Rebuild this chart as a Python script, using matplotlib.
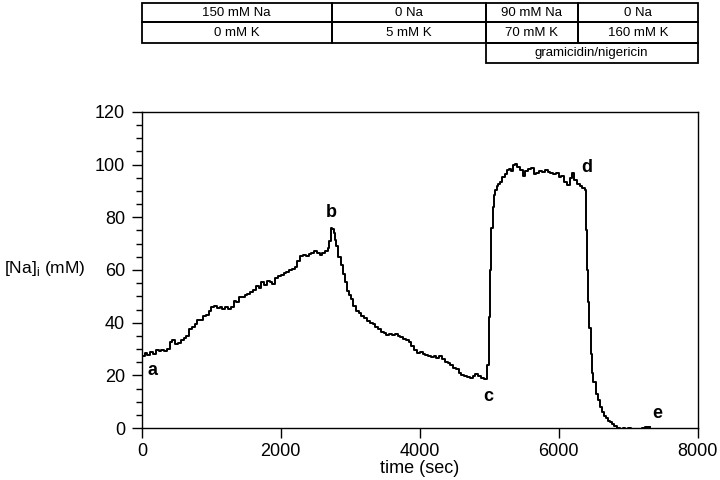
import matplotlib
matplotlib.use("Agg")
import matplotlib.pyplot as plt
from matplotlib.ticker import MultipleLocator
from matplotlib.transforms import blended_transform_factory
from matplotlib.patches import Rectangle

plt.rcParams["font.family"] = ["Liberation Sans", "DejaVu Sans"]
plt.rcParams["mathtext.fontset"] = "custom"
plt.rcParams["mathtext.rm"] = "Liberation Sans"

# trace (time in s, intracellular Na in mM)
time_s = [
    0, 40, 80, 120, 160, 200, 240, 280, 320, 360,
    400, 440, 480, 520, 560, 600, 640, 680, 720, 760,
    800, 840, 880, 920, 960, 1000, 1040, 1080, 1120, 1160,
    1200, 1240, 1280, 1320, 1360, 1400, 1440, 1480, 1520, 1560,
    1600, 1640, 1680, 1720, 1760, 1800, 1840, 1880, 1920, 1960,
    2000, 2040, 2080, 2120, 2160, 2200, 2240, 2280, 2320, 2360,
    2400, 2440, 2480, 2520, 2560, 2600, 2640, 2680, 2700, 2720,
    2740, 2760, 2780, 2800, 2830, 2860, 2890, 2920, 2950, 2980,
    3010, 3040, 3080, 3120, 3160, 3200, 3240, 3280, 3320, 3360,
    3400, 3440, 3480, 3520, 3560, 3600, 3640, 3680, 3720, 3760,
    3800, 3840, 3880, 3920, 3960, 4000, 4040, 4080, 4120, 4160,
    4200, 4240, 4280, 4320, 4360, 4400, 4440, 4480, 4520, 4560,
    4600, 4640, 4680, 4720, 4760, 4800, 4840, 4880, 4920, 4950,
    4970, 4990, 5010, 5030, 5050, 5070, 5090, 5110, 5130, 5160,
    5190, 5220, 5250, 5280, 5310, 5340, 5370, 5400, 5440, 5480,
    5520, 5560, 5600, 5640, 5680, 5720, 5760, 5800, 5840, 5880,
    5920, 5960, 6000, 6040, 6080, 6120, 6160, 6190, 6220, 6260,
    6300, 6340, 6380, 6395, 6410, 6425, 6440, 6460, 6480, 6500,
    6530, 6560, 6590, 6620, 6650, 6680, 6710, 6740, 6770, 6800,
    6840, 6880, 6920, 6960, 7000, 7040, 7080, 7120, 7160, 7200,
    7240, 7280, 7310,
]
na_mM = [
    27.5, 28.5, 27.8, 28.8, 28.2, 29.5, 29.2, 29.8, 29.4, 30.2,
    32.8, 33.5, 32.0, 32.3, 33.6, 34.2, 35.0, 37.6, 38.2, 39.5,
    41.2, 41.0, 42.4, 43.0, 44.5, 45.8, 46.2, 45.4, 45.9, 45.3,
    45.8, 45.2, 45.9, 48.3, 48.0, 49.6, 49.8, 50.4, 51.0, 51.6,
    52.4, 53.8, 53.0, 55.6, 54.2, 56.0, 55.4, 54.6, 57.0, 57.6,
    58.2, 58.9, 59.4, 60.0, 60.4, 61.2, 63.5, 65.2, 65.6, 65.4,
    66.0, 66.4, 67.2, 66.6, 65.8, 66.6, 67.2, 68.2, 71.0, 76.0,
    75.5, 74.0, 71.5, 69.0, 65.0, 62.0, 58.5, 55.5, 52.0, 50.5,
    49.0, 46.5, 44.5, 43.6, 42.4, 41.8, 40.8, 40.0, 39.4, 38.2,
    37.8, 36.5, 36.2, 35.4, 35.8, 35.2, 35.6, 34.8, 34.6, 34.0,
    33.4, 32.6, 31.2, 29.8, 28.6, 28.8, 28.2, 27.6, 27.4, 27.0,
    27.2, 26.8, 27.2, 26.4, 25.2, 24.6, 23.8, 22.8, 22.4, 21.0,
    20.2, 19.6, 19.3, 19.0, 19.6, 20.6, 19.8, 19.2, 18.8, 18.6,
    24.0, 42.0, 60.0, 76.0, 84.0, 88.5, 90.5, 91.8, 92.5, 93.4,
    95.2, 96.4, 97.8, 98.4, 97.6, 99.8, 100.4, 99.2, 98.0, 95.8,
    97.4, 98.2, 98.6, 96.4, 96.8, 97.6, 97.2, 98.0, 97.0, 96.8,
    96.4, 96.8, 95.4, 95.8, 93.2, 92.4, 94.8, 96.8, 94.2, 92.6,
    91.8, 91.2, 90.4, 75.0, 60.0, 48.0, 38.0, 28.0, 21.0, 17.5,
    13.0, 10.5, 8.0, 6.0, 4.6, 3.8, 2.8, 2.2, 1.4, 0.8,
    0.2, -0.2, 0.0, -0.3, -0.1, -0.4, -0.2, -0.8, -0.2, 0.2,
    0.4, 0.6, 0.3,
]

# point labels
mark_text = ["a", "b", "c", "d", "e"]
mark_x = [150, 2720, 4980, 6410, 7420]
mark_y = [22, 82, 12, 99, 5.5]

# solution table above the plot: (label, start, end) per row
row_na = [("150 mM Na", 0, 2730), ("0 Na", 2730, 4950),
          ("90 mM Na", 4950, 6280), ("0 Na", 6280, 8000)]
row_k = [("0 mM K", 0, 2730), ("5 mM K", 2730, 4950),
         ("70 mM K", 4950, 6280), ("160 mM K", 6280, 8000)]
row_ion = [("gramicidin/nigericin", 4950, 8000)]

fig = plt.figure(figsize=(7.2, 4.8), dpi=100)
ax = fig.add_axes([0.197, 0.108, 0.772, 0.659])

ax.plot(time_s, na_mM, color="black", lw=1.4, drawstyle="steps-post")

for t, x, y in zip(mark_text, mark_x, mark_y):
    ax.text(x, y, t, fontsize=13, fontweight="bold", ha="center", va="center")

ax.set_xlim(0, 8000)
ax.set_ylim(0, 120)
ax.xaxis.set_major_locator(MultipleLocator(2000))
ax.yaxis.set_major_locator(MultipleLocator(20))
ax.yaxis.set_minor_locator(MultipleLocator(5))
ax.tick_params(which="major", direction="out", length=7, width=1, labelsize=13, pad=4)
ax.tick_params(which="minor", direction="out", length=4, width=1)
ax.tick_params(axis="y", which="major", pad=5)
for s in ax.spines.values():
    s.set_linewidth(1)

ax.set_xlabel("time (sec)", fontsize=13, labelpad=0)
fig.text(0.005, 1 - 268 / 480, r"[Na]$_{\mathrm{i}}$ (mM)", fontsize=12.5,
         ha="left", va="center")

# table drawn with x in data units, y in figure fraction
tr = blended_transform_factory(ax.transData, fig.transFigure)
rows = [(row_na, 0.9944, 0.9535), (row_k, 0.9535, 0.9098), (row_ion, 0.9098, 0.868)]
for cells, top, bot in rows:
    for label, x0, x1 in cells:
        ax.add_patch(Rectangle((x0, bot), x1 - x0, top - bot, transform=tr,
                               fill=False, lw=1.3, ec="black", clip_on=False))
        ax.text((x0 + x1) / 2, (top + bot) / 2, label, transform=tr,
                fontsize=9.5, ha="center", va="center", clip_on=False)

fig.savefig("out.png", dpi=100)
